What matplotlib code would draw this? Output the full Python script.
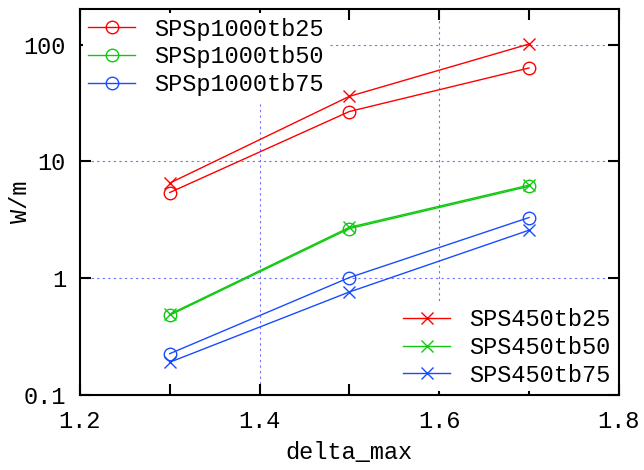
import numpy as np
import matplotlib.pyplot as plt
from matplotlib.ticker import FixedLocator, NullLocator

plt.rcParams['font.family'] = ['Liberation Mono', 'DejaVu Sans Mono']
plt.rcParams['font.size'] = 17

# data
delta_max = [1.3, 1.5, 1.7]
sps1000_tb25 = [5.4, 26.7, 63.0]
sps1000_tb50 = [0.48, 2.65, 6.1]
sps1000_tb75 = [0.225, 1.01, 3.3]
sps450_tb25 = [6.5, 36.0, 101.0]
sps450_tb50 = [0.49, 2.72, 6.25]
sps450_tb75 = [0.19, 0.76, 2.57]

red = '#ff0000'
green = '#10c810'
blue = '#1a4cff'

fig = plt.figure(figsize=(6.44, 4.70), dpi=100)
ax = fig.add_axes([0.124, 0.160, 0.837, 0.820])

ax.set_yscale('log')
ax.set_xlim(1.2, 1.8)
ax.set_ylim(0.1, 200)

# grid like gnuplot
for gx in [1.4, 1.6]:
    ax.axvline(gx, color='#7070ff', lw=0.8, ls=(0, (2, 3)), zorder=0)
for gy in [1, 10, 100]:
    ax.axhline(gy, color='#7070ff', lw=0.8, ls=(0, (2, 3)), zorder=0)

ms = 9
l1, = ax.plot(delta_max, sps1000_tb25, '-o', color=red, mfc='none', ms=ms, mew=1.0, lw=1.0, label='SPSp1000tb25')
l2, = ax.plot(delta_max, sps1000_tb50, '-o', color=green, mfc='none', ms=ms, mew=1.0, lw=1.0, label='SPSp1000tb50')
l3, = ax.plot(delta_max, sps1000_tb75, '-o', color=blue, mfc='none', ms=ms, mew=1.0, lw=1.0, label='SPSp1000tb75')
l4, = ax.plot(delta_max, sps450_tb25, '-x', color=red, ms=ms, mew=1.0, lw=1.0, label='SPS450tb25')
l5, = ax.plot(delta_max, sps450_tb50, '-x', color=green, ms=ms, mew=1.0, lw=1.0, label='SPS450tb50')
l6, = ax.plot(delta_max, sps450_tb75, '-x', color=blue, ms=ms, mew=1.0, lw=1.0, label='SPS450tb75')

ax.xaxis.set_major_locator(FixedLocator([1.2, 1.4, 1.6, 1.8]))
ax.xaxis.set_minor_locator(FixedLocator([1.3, 1.5, 1.7]))
ax.set_xticklabels(['1.2', '1.4', '1.6', '1.8'])
ax.yaxis.set_major_locator(FixedLocator([0.1, 1, 10, 100]))
ax.yaxis.set_minor_locator(NullLocator())
ax.set_yticklabels(['0.1', '1', '10', '100'])
ax.tick_params(which='both', direction='in', top=True, right=True, length=8, width=1.5)
ax.tick_params(axis='x', pad=11)
ax.tick_params(axis='y', pad=10)
for s in ax.spines.values():
    s.set_linewidth(1.5)

ax.set_xlabel('delta_max', labelpad=6)
ax.set_ylabel('W/m')
ax.yaxis.set_label_coords(-0.088, 0.5)

leg_kw = dict(frameon=True, edgecolor='none', facecolor='white', framealpha=1,
              fancybox=False, handlelength=2.0, handletextpad=0.8,
              borderpad=0.2, borderaxespad=0.15, labelspacing=0.2)
leg1 = ax.legend(handles=[l1, l2, l3], loc='upper left', **leg_kw)
ax.add_artist(leg1)
ax.legend(handles=[l4, l5, l6], loc='lower right', **leg_kw)

fig.savefig('out.png', dpi=100)
